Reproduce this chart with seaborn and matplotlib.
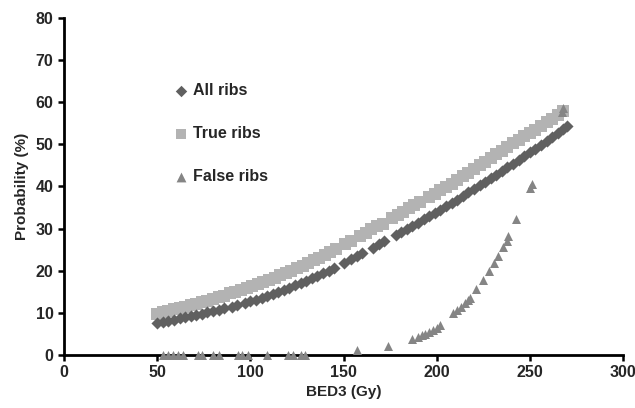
import pandas as pd
import matplotlib
matplotlib.use("Agg")
import matplotlib.pyplot as plt
import seaborn as sns

# All ribs (dark diamonds)
all_x = [50, 53, 56, 59, 62, 65, 68, 71, 74, 77, 80, 83, 86, 90, 93, 97, 100,
         103, 106, 109, 112, 115, 118, 121, 124, 127, 130, 133, 136, 139, 142,
         145, 150, 154, 157, 160, 166, 169, 172, 178, 181, 184, 187, 190, 193,
         196, 199, 202, 205, 208, 211, 214, 217, 220, 223, 226, 229, 232, 235,
         238, 241, 244, 247, 250, 253, 256, 259, 262, 265, 268, 270]
all_y = [7.6, 7.9, 8.1, 8.4, 8.7, 8.9, 9.2, 9.5, 9.8, 10.1, 10.4, 10.7, 11.1,
         11.5, 11.9, 12.3, 12.7, 13.1, 13.6, 14.0, 14.5, 15.0, 15.5, 16.0,
         16.5, 17.1, 17.6, 18.2, 18.8, 19.4, 20.0, 20.7, 21.8, 22.7, 23.4,
         24.1, 25.5, 26.3, 27.0, 28.4, 29.1, 29.9, 30.6, 31.4, 32.2, 33.0,
         33.7, 34.5, 35.3, 36.1, 36.9, 37.7, 38.6, 39.4, 40.3, 41.1, 41.9,
         42.8, 43.6, 44.5, 45.4, 46.3, 47.2, 48.1, 49.0, 49.9, 50.9, 51.8,
         52.8, 53.7, 54.4]

# True ribs (light squares)
true_x = [50, 53, 56, 59, 62, 65, 68, 71, 74, 77, 80, 83, 86, 89, 92, 95, 98,
          101, 104, 107, 110, 113, 116, 119, 122, 125, 128, 131, 134, 137, 140,
          143, 146, 151, 154, 159, 162, 165, 168, 171, 176, 179, 182, 185, 188,
          191, 196, 199, 202, 205, 208, 211, 214, 217, 220, 223, 226, 229, 232,
          235, 238, 241, 244, 247, 250, 253, 256, 259, 262, 265, 268]
true_y = [9.8, 10.1, 10.4, 10.8, 11.1, 11.4, 11.8, 12.1, 12.5, 12.9, 13.3,
          13.7, 14.1, 14.6, 15.0, 15.4, 15.9, 16.4, 16.8, 17.3, 17.8, 18.3,
          18.9, 19.4, 20.0, 20.6, 21.2, 21.8, 22.5, 23.1, 23.8, 24.5, 25.2,
          26.3, 27.1, 28.3, 29.0, 29.8, 30.5, 31.2, 32.5, 33.2, 34.0, 34.8,
          35.5, 36.3, 37.5, 38.2, 39.1, 39.9, 40.7, 41.6, 42.4, 43.3, 44.1,
          45.0, 45.8, 46.7, 47.6, 48.5, 49.3, 50.2, 51.0, 51.9, 52.7, 53.5,
          54.4, 55.2, 56.1, 57.0, 57.9]

# False ribs (triangles)
false_x = [53, 56, 58.6, 61, 64, 72, 74, 80, 83, 93.5, 95.5, 99, 109, 120,
           123, 127, 129.5, 157, 174, 187, 190, 192, 194, 196, 198, 200, 202,
           209, 211, 213, 215, 217, 218, 221, 225, 228, 231, 233, 235.6, 237.7,
           238.5, 242.6, 250, 251, 267, 268]
false_y = [0, 0, 0, 0, 0, 0, 0, 0, 0, 0, 0, 0, 0, 0, 0, 0, 0, 1.2, 2.2, 3.8,
           4.3, 4.7, 5.0, 5.4, 5.9, 6.4, 7.0, 10.0, 10.7, 11.5, 12.3, 13.0,
           13.5, 15.7, 17.8, 20.0, 21.9, 23.5, 25.6, 27.0, 28.3, 32.3, 39.7,
           40.6, 57.7, 58.7]

series = ["All ribs", "True ribs", "False ribs"]
colors = {"All ribs": "#606060", "True ribs": "#b3b3b3", "False ribs": "#858585"}
markers = {"All ribs": "D", "True ribs": "s", "False ribs": "^"}
sizes = {"All ribs": 38, "True ribs": 64, "False ribs": 42}
legend_sizes = {"All ribs": 34, "True ribs": 50, "False ribs": 50}

df = pd.concat([
    pd.DataFrame({"BED3": all_x, "Prob": all_y, "Series": "All ribs"}),
    pd.DataFrame({"BED3": true_x, "Prob": true_y, "Series": "True ribs"}),
    pd.DataFrame({"BED3": false_x, "Prob": false_y, "Series": "False ribs"}),
])

sns.set_style("ticks")
plt.rcParams["font.family"] = ["Liberation Sans", "DejaVu Sans"]
plt.rcParams["font.weight"] = "bold"

fig = plt.figure(figsize=(6.35, 4.08), dpi=100)
ax = fig.add_axes([0.1008, 0.130, 0.8803, 0.826])

# light squares first so the dark diamonds sit on top
for name in ["True ribs", "All ribs", "False ribs"]:
    sub = df[df["Series"] == name]
    sns.scatterplot(data=sub, x="BED3", y="Prob", ax=ax, color=colors[name],
                    marker=markers[name], s=sizes[name], linewidth=0,
                    label=name, zorder=3, clip_on=False)

ax.set_xlim(0, 300)
ax.set_ylim(0, 80)
ax.set_xticks(range(0, 301, 50))
ax.set_yticks(range(0, 81, 10))
ax.set_xlabel("BED3 (Gy)", fontsize=11, fontweight="bold", labelpad=3)
ax.set_ylabel("Probability (%)", fontsize=11, fontweight="bold", labelpad=5)
ax.tick_params(axis="both", labelsize=11.5, width=1.8, length=4, color="black")
for lab in ax.get_xticklabels() + ax.get_yticklabels():
    lab.set_fontweight("bold")
sns.despine(ax=ax)
for sp in ["left", "bottom"]:
    ax.spines[sp].set_linewidth(2)
    ax.spines[sp].set_color("black")
    ax.spines[sp].set_zorder(2)

handles, labels = ax.get_legend_handles_labels()
order = [labels.index(s) for s in series]
leg = ax.legend([handles[i] for i in order], [labels[i] for i in order],
                loc="upper left", bbox_to_anchor=(0.17, 0.85), frameon=False,
                prop={"size": 11.5, "weight": "bold"}, labelspacing=1.75,
                handletextpad=0.2, handlelength=1.0)
for h, name in zip(leg.legend_handles, series):
    h.set_sizes([legend_sizes[name]])

fig.savefig("out.png", dpi=100)
